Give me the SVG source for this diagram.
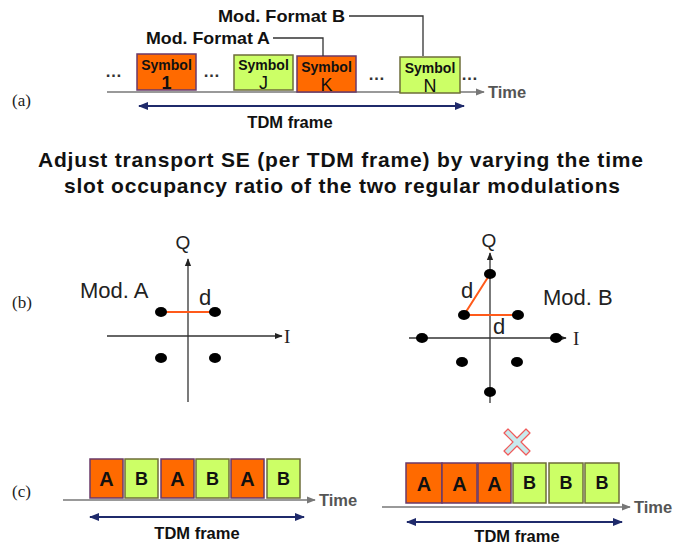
<svg xmlns="http://www.w3.org/2000/svg" width="673" height="545" viewBox="0 0 673 545">
  <style>
    .sans { font-family: "Liberation Sans", Arial, sans-serif; }
    .serif { font-family: "Liberation Serif", "Times New Roman", serif; }
    .panel { font-size: 17px; fill: #222; }
    .modA { fill: #ff6a00; stroke: #6a3a6a; stroke-width: 1.5; }
    .modB { fill: #ccff66; stroke: #6e6e3a; stroke-width: 1.5; }
    .axis { stroke: #777; stroke-width: 1.5; fill: none; }
    .frame { stroke: #1f2a6b; stroke-width: 2; fill: none; }
    .lead { stroke: #333; stroke-width: 1.3; fill: none; }
    .iq { stroke: #333; stroke-width: 1.3; fill: none; }
    .dist { stroke: #ff5a1a; stroke-width: 2; fill: none; }
    .pt { fill: #000; }
    .sym { font-size: 14px; font-weight: bold; fill: #111; }
    .idx { font-size: 18px; fill: #111; }
    .slotA { font-size: 20px; font-weight: bold; fill: #111; }
    .slotB { font-size: 18px; font-weight: bold; fill: #111; }
    .time { font-size: 16.5px; font-weight: bold; fill: #555; }
    .tdm { font-size: 16.5px; font-weight: bold; fill: #111; }
    .dots { font-size: 17px; font-weight: bold; fill: #333; letter-spacing: 2px; }
    .mod { font-size: 17px; font-weight: bold; fill: #111; }
    .title { font-size: 21px; font-weight: bold; fill: #111; }
    .cons { font-size: 22px; fill: #222; }
    .axl { font-size: 19px; fill: #222; }
  </style>
  <defs>
    <marker id="arrGrey" viewBox="0 0 10 10" refX="9" refY="5" markerWidth="6" markerHeight="6" orient="auto">
      <path d="M0,1 L10,5 L0,9 Z" fill="#777"/>
    </marker>
    <marker id="arrBlue" viewBox="0 0 10 10" refX="9" refY="5" markerWidth="5" markerHeight="5" orient="auto-start-reverse">
      <path d="M0,1 L10,5 L0,9 Z" fill="#1f2a6b"/>
    </marker>
    <marker id="arrDark" viewBox="0 0 10 10" refX="9" refY="5" markerWidth="6" markerHeight="6" orient="auto">
      <path d="M0,1 L10,5 L0,9 Z" fill="#222"/>
    </marker>
  </defs>

  <!-- panel labels -->
  <text class="serif panel" x="12" y="106">(a)</text>
  <text class="serif panel" x="12" y="308">(b)</text>
  <text class="serif panel" x="12" y="497">(c)</text>

  <!-- (a) symbol stream -->
  <g id="axis-a">
    <line class="axis" x1="107" y1="92" x2="484" y2="92" marker-end="url(#arrGrey)"/>
    <text class="sans time" x="488" y="98">Time</text>
    <line class="frame" x1="139" y1="106" x2="464" y2="106" marker-start="url(#arrBlue)" marker-end="url(#arrBlue)"/>
    <text class="sans tdm" x="290" y="128" text-anchor="middle">TDM frame</text>
  </g>
  <g id="ellipses-a">
    <text class="sans dots" x="105" y="77">…</text>
    <text class="sans dots" x="203" y="77">…</text>
    <text class="sans dots" x="368" y="80">…</text>
    <text class="sans dots" x="461" y="80">…</text>
  </g>
  <g id="sym-1">
    <rect class="modA" x="137" y="54" width="59" height="36"/>
    <text class="sans sym" x="166.5" y="70" text-anchor="middle">Symbol</text>
    <text class="sans idx" x="166.5" y="89" text-anchor="middle" font-weight="bold">1</text>
  </g>
  <g id="sym-j">
    <rect class="modB" x="234" y="55" width="59" height="35"/>
    <text class="sans sym" x="263.5" y="70" text-anchor="middle">Symbol</text>
    <text class="sans idx" x="263.5" y="89" text-anchor="middle">J</text>
  </g>
  <g id="sym-k">
    <rect class="modA" x="297" y="56" width="59" height="36"/>
    <text class="sans sym" x="326.5" y="72" text-anchor="middle">Symbol</text>
    <text class="sans idx" x="326.5" y="91" text-anchor="middle">K</text>
  </g>
  <g id="sym-n">
    <rect class="modB" x="400" y="57" width="60" height="36"/>
    <text class="sans sym" x="430" y="73" text-anchor="middle">Symbol</text>
    <text class="sans idx" x="430" y="92" text-anchor="middle">N</text>
  </g>
  <g id="label-mod-b">
    <text class="sans mod" x="218" y="22" textLength="127" lengthAdjust="spacingAndGlyphs">Mod. Format B</text>
  </g>
  <g id="label-mod-a">
    <text class="sans mod" x="146" y="44" textLength="124" lengthAdjust="spacingAndGlyphs">Mod. Format A</text>
  </g>
  <g id="connectors">
    <polyline class="lead" points="349,16 423,16 423,56"/>
    <polyline class="lead" points="273,38 323,38 323,56"/>
  </g>

  <!-- caption -->
  <g id="caption">
    <text class="sans title" x="38" y="167" textLength="605" lengthAdjust="spacing">Adjust transport SE (per TDM frame) by varying the time</text>
    <text class="sans title" x="64" y="193" textLength="556" lengthAdjust="spacing">slot occupancy ratio of the two regular modulations</text>
  </g>

  <!-- (b) constellation A -->
  <g id="const-a">
    <line class="iq" x1="188" y1="402" x2="188" y2="259" marker-end="url(#arrDark)"/>
    <line class="iq" x1="107" y1="336" x2="282" y2="336" marker-end="url(#arrDark)"/>
    <text class="sans axl" x="183" y="249" text-anchor="middle">Q</text>
    <text class="serif axl" x="284" y="343">I</text>
    <text class="sans cons" x="80" y="298">Mod. A</text>
    <text class="sans cons" x="199" y="305" font-size="19">d</text>
    <line class="dist" x1="161" y1="312" x2="215" y2="312"/>
    <ellipse class="pt" cx="161" cy="312" rx="6" ry="5"/>
    <ellipse class="pt" cx="215" cy="312" rx="6" ry="5"/>
    <ellipse class="pt" cx="161" cy="358" rx="6" ry="5"/>
    <ellipse class="pt" cx="215" cy="358" rx="6" ry="5"/>
  </g>

  <!-- (b) constellation B -->
  <g id="const-b">
    <line class="iq" x1="490" y1="403" x2="490" y2="253" marker-end="url(#arrDark)"/>
    <line class="iq" x1="409" y1="338" x2="566" y2="338" marker-end="url(#arrDark)"/>
    <text class="sans axl" x="489" y="247" text-anchor="middle">Q</text>
    <text class="serif axl" x="573" y="345">I</text>
    <text class="sans cons" x="543" y="305">Mod. B</text>
    <text class="sans cons" x="461" y="298" font-size="19">d</text>
    <text class="sans cons" x="493" y="334" font-size="19">d</text>
    <polyline class="dist" points="490,274 464,315 518,315"/>
    <ellipse class="pt" cx="490" cy="274" rx="6" ry="5"/>
    <ellipse class="pt" cx="464" cy="315" rx="6" ry="5"/>
    <ellipse class="pt" cx="518" cy="315" rx="6" ry="5"/>
    <ellipse class="pt" cx="422" cy="338" rx="6" ry="5"/>
    <ellipse class="pt" cx="556" cy="338" rx="6" ry="5"/>
    <ellipse class="pt" cx="462" cy="362" rx="6" ry="5"/>
    <ellipse class="pt" cx="517" cy="362" rx="6" ry="5"/>
    <ellipse class="pt" cx="490" cy="392" rx="6" ry="5"/>
  </g>

  <!-- (c) interleaved frame -->
  <g id="frame-mixed">
    <rect class="modA" x="90" y="459" width="33" height="39"/>
    <text class="sans slotA" x="106.5" y="486" text-anchor="middle">A</text>
    <rect class="modB" x="125" y="459" width="33" height="39"/>
    <text class="sans slotB" x="141.5" y="485" text-anchor="middle">B</text>
    <rect class="modA" x="161" y="459" width="33" height="39"/>
    <text class="sans slotA" x="177.5" y="486" text-anchor="middle">A</text>
    <rect class="modB" x="196" y="459" width="33" height="39"/>
    <text class="sans slotB" x="212.5" y="485" text-anchor="middle">B</text>
    <rect class="modA" x="231" y="459" width="33" height="39"/>
    <text class="sans slotA" x="247.5" y="486" text-anchor="middle">A</text>
    <rect class="modB" x="267" y="459" width="33" height="39"/>
    <text class="sans slotB" x="283.5" y="485" text-anchor="middle">B</text>
    <line class="axis" x1="63" y1="500" x2="315" y2="500" marker-end="url(#arrGrey)"/>
    <text class="sans time" x="319" y="506">Time</text>
    <line class="frame" x1="90" y1="517" x2="304" y2="517" marker-start="url(#arrBlue)" marker-end="url(#arrBlue)"/>
    <text class="sans tdm" x="197" y="539" text-anchor="middle">TDM frame</text>
  </g>

  <!-- (c) grouped frame -->
  <g id="frame-grouped">
    <rect class="modA" x="406" y="463" width="36" height="40"/>
    <text class="sans slotA" x="424" y="491" text-anchor="middle">A</text>
    <rect class="modA" x="442" y="463" width="35" height="40"/>
    <text class="sans slotA" x="459.5" y="491" text-anchor="middle">A</text>
    <rect class="modA" x="478" y="463" width="33" height="40"/>
    <text class="sans slotA" x="494.5" y="491" text-anchor="middle">A</text>
    <rect class="modB" x="513" y="463" width="33" height="40"/>
    <text class="sans slotB" x="529.5" y="489" text-anchor="middle">B</text>
    <rect class="modB" x="549" y="463" width="34" height="40"/>
    <text class="sans slotB" x="566" y="489" text-anchor="middle">B</text>
    <rect class="modB" x="585" y="463" width="34" height="40"/>
    <text class="sans slotB" x="602" y="489" text-anchor="middle">B</text>
    <line class="axis" x1="382" y1="507" x2="630" y2="507" marker-end="url(#arrGrey)"/>
    <text class="sans time" x="634" y="513">Time</text>
    <line class="frame" x1="407" y1="522" x2="622" y2="522" marker-start="url(#arrBlue)" marker-end="url(#arrBlue)"/>
    <text class="sans tdm" x="517" y="542" text-anchor="middle">TDM frame</text>
    <path id="cross" d="M-9,-13 L0,-4 L9,-13 L13,-9 L4,0 L13,9 L9,13 L0,4 L-9,13 L-13,9 L-4,0 L-13,-9 Z" transform="translate(517,442)" fill="#c8eaee" stroke="#f05a5a" stroke-width="1.2" stroke-linejoin="round"/>
  </g>
</svg>
